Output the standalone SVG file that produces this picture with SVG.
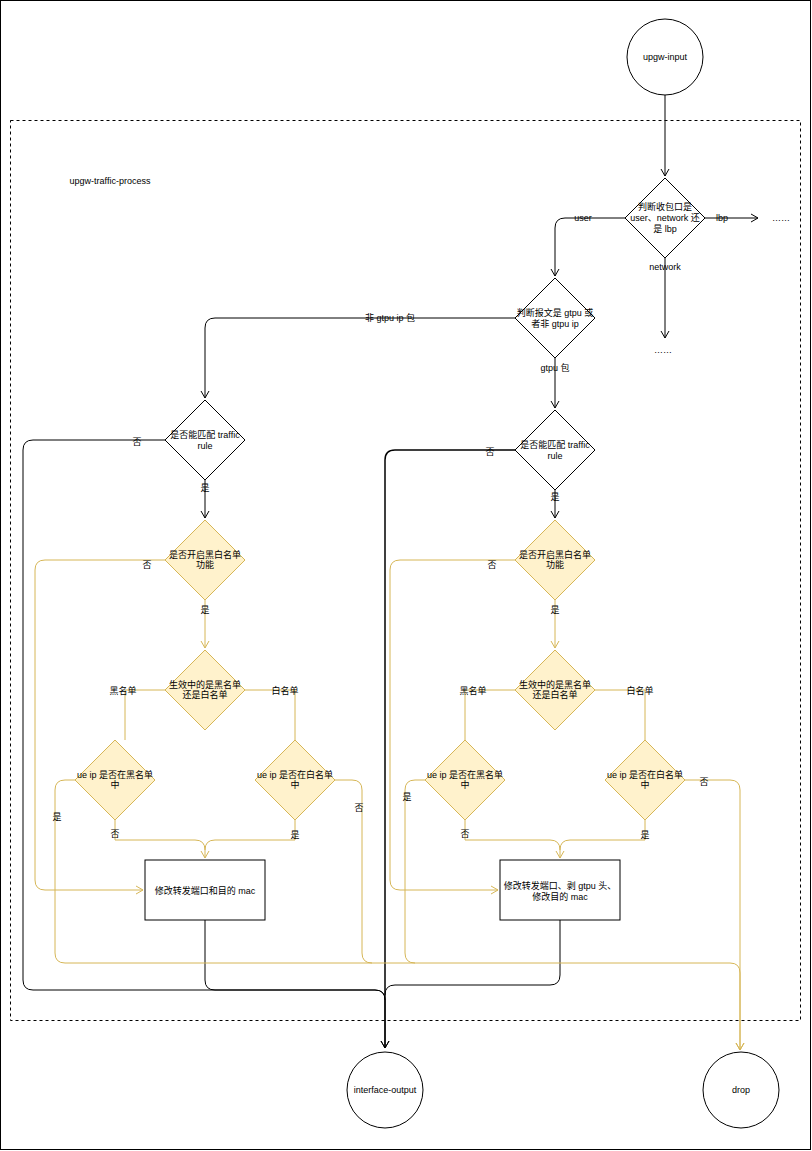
<svg xmlns="http://www.w3.org/2000/svg" width="812" height="1151" viewBox="0 0 812 1151">
<defs>
<marker id="ak" markerWidth="10" markerHeight="10" refX="8" refY="5" orient="auto" markerUnits="userSpaceOnUse"><path d="M1,1 L8,5 L1,9" fill="none" stroke="#000" stroke-width="1"/></marker>
<marker id="ay" markerWidth="10" markerHeight="10" refX="8" refY="5" orient="auto" markerUnits="userSpaceOnUse"><path d="M1,1 L8,5 L1,9" fill="none" stroke="#d6b656" stroke-width="1"/></marker>
</defs>
<style>
text{font-family:"Liberation Sans","Noto Sans CJK SC",sans-serif;font-size:9px;fill:#000;text-anchor:middle;dominant-baseline:central}
.n{fill:#fff;stroke:#000;stroke-width:1}
.y{fill:#fff2cc;stroke:#d6b656;stroke-width:1}
.e{fill:none;stroke:#000;stroke-width:1}
.ey{fill:none;stroke:#d6b656;stroke-width:1}
.lb{fill:#fff}
</style>
<rect x="0.5" y="0.5" width="810" height="1149" fill="#fff" stroke="#000"/>
<rect x="10.5" y="120.5" width="790" height="900" fill="none" stroke="#000" stroke-dasharray="3,3"/>
<text x="110" y="181">upgw-traffic-process</text>
<g id="connectors">
<path class="e" d="M665,95 V176" marker-end="url(#ak)"/>
<path class="e" d="M705,218 H758" marker-end="url(#ak)"/>
<path class="e" d="M665,258 V338" marker-end="url(#ak)"/>
<path class="e" d="M625,218 H565 Q555,218 555,228 V276" marker-end="url(#ak)"/>
<path class="e" d="M515,318 H215 Q205,318 205,328 V398" marker-end="url(#ak)"/>
<path class="e" d="M555,358 V408" marker-end="url(#ak)"/>
<path class="e" d="M205,480 V518" marker-end="url(#ak)"/>
<path class="e" d="M555,490 V518" marker-end="url(#ak)"/>
<path class="e" d="M165,440 H33 Q23,440 23,450 V980 Q23,990 33,990 H375 Q385,990 385,1000 V1048" marker-end="url(#ak)" style="stroke-width:1"/>
<path class="e" d="M515,450 H395 Q385,450 385,460 V1048" marker-end="url(#ak)" style="stroke-width:1.5"/>
<path class="e" d="M205,920 V980 Q205,990 215,990 H375 Q385,990 385,1000"/>
<path class="e" d="M560,920 V975 Q560,985 550,985 H395 Q385,985 385,995"/>
<path class="ey" d="M205,600 V648" marker-end="url(#ay)"/>
<path class="ey" d="M555,600 V648" marker-end="url(#ay)"/>
<path class="ey" d="M165,560 H45 Q35,560 35,570 V880 Q35,890 45,890 H143" marker-end="url(#ay)"/>
<path class="ey" d="M515,560 H400 Q390,560 390,570 V880 Q390,890 400,890 H498" marker-end="url(#ay)"/>
<path class="ey" d="M165,690 H125 V740"/>
<path class="ey" d="M245,690 H295 V740"/>
<path class="ey" d="M515,690 H465 V740"/>
<path class="ey" d="M595,690 H645 V740"/>
<path class="ey" d="M115,820 V840 H195 Q205,840 205,850 V858" marker-end="url(#ay)"/>
<path class="ey" d="M295,820 V840 H215 Q205,840 205,850"/>
<path class="ey" d="M465,820 V840 H550 Q560,840 560,850 V858" marker-end="url(#ay)"/>
<path class="ey" d="M645,820 V840 H570 Q560,840 560,850"/>
<path class="ey" d="M75,780 H65 Q55,780 55,790 V953 Q55,963 65,963 H730 Q740,963 740,973 V1050" marker-end="url(#ay)"/>
<path class="ey" d="M335,780 H352 Q362,780 362,790 V953 Q362,963 372,963"/>
<path class="ey" d="M425,780 H415 Q405,780 405,790 V953 Q405,963 415,963"/>
<path class="ey" d="M685,780 H730 Q740,780 740,790 V1050" marker-end="url(#ay)"/>
<text x="722" y="218" class="lbt">lbp</text>
<text x="665" y="267">network</text>
<text x="583" y="218">user</text>
<text x="390" y="318">非 gtpu ip 包</text>
<text x="555" y="368">gtpu 包</text>
<text x="137" y="442">否</text>
<text x="490" y="452">否</text>
<text x="205" y="488">是</text>
<text x="555" y="497">是</text>
<text x="147" y="565">否</text>
<text x="492" y="565">否</text>
<text x="205" y="610">是</text>
<text x="555" y="610">是</text>
<text x="123" y="691">黑名单</text>
<text x="285" y="691">白名单</text>
<text x="473" y="691">黑名单</text>
<text x="640" y="691">白名单</text>
<text x="115" y="834">否</text>
<text x="295" y="835">是</text>
<text x="465" y="834">否</text>
<text x="645" y="835">是</text>
<text x="57" y="817">是</text>
<text x="359" y="808">否</text>
<text x="407" y="797">是</text>
<text x="704" y="782">否</text>
<text x="781" y="218">……</text>
<text x="663" y="350">……</text>
</g>
<g id="upgw-input"><circle class="n" cx="665" cy="57" r="38"/><text x="665" y="57">upgw-input</text></g>
<g id="d1"><path class="n" d="M665,178 L705,218 L665,258 L625,218 Z"/><text x="665" y="207">判断收包口是</text><text x="665" y="218">user、network 还</text><text x="665" y="229">是 lbp</text></g>
<g id="d2"><path class="n" d="M555,278 L595,318 L555,358 L515,318 Z"/><text x="555" y="313">判断报文是 gtpu 或</text><text x="555" y="324">者非 gtpu ip</text></g>
<g id="d3l"><path class="n" d="M205,400 L245,440 L205,480 L165,440 Z"/><text x="205" y="435">是否能匹配 traffic</text><text x="205" y="446">rule</text></g>
<g id="d3r"><path class="n" d="M555,410 L595,450 L555,490 L515,450 Z"/><text x="555" y="445">是否能匹配 traffic</text><text x="555" y="456">rule</text></g>
<g id="d4l"><path class="y" d="M205,520 L245,560 L205,600 L165,560 Z"/><text x="205" y="555">是否开启黑白名单</text><text x="205" y="565">功能</text></g>
<g id="d4r"><path class="y" d="M555,520 L595,560 L555,600 L515,560 Z"/><text x="555" y="555">是否开启黑白名单</text><text x="555" y="565">功能</text></g>
<g id="d5l"><path class="y" d="M205,650 L245,690 L205,730 L165,690 Z"/><text x="205" y="685">生效中的是黑名单</text><text x="205" y="695">还是白名单</text></g>
<g id="d5r"><path class="y" d="M555,650 L595,690 L555,730 L515,690 Z"/><text x="555" y="685">生效中的是黑名单</text><text x="555" y="695">还是白名单</text></g>
<g id="d6l"><path class="y" d="M115,740 L155,780 L115,820 L75,780 Z"/><text x="115" y="775">ue ip 是否在黑名单</text><text x="115" y="785">中</text></g>
<g id="d7l"><path class="y" d="M295,740 L335,780 L295,820 L255,780 Z"/><text x="295" y="775">ue ip 是否在白名单</text><text x="295" y="785">中</text></g>
<g id="d6r"><path class="y" d="M465,740 L505,780 L465,820 L425,780 Z"/><text x="465" y="775">ue ip 是否在黑名单</text><text x="465" y="785">中</text></g>
<g id="d7r"><path class="y" d="M645,740 L685,780 L645,820 L605,780 Z"/><text x="645" y="775">ue ip 是否在白名单</text><text x="645" y="785">中</text></g>
<g id="boxl"><rect class="n" x="145" y="860" width="120" height="60"/><text x="205" y="891">修改转发端口和目的 mac</text></g>
<g id="boxr"><rect class="n" x="500" y="860" width="120" height="60"/><text x="560" y="886">修改转发端口、剥 gtpu 头、</text><text x="560" y="897">修改目的 mac</text></g>
<g id="interface-output"><circle class="n" cx="385" cy="1090" r="38"/><text x="385" y="1090">interface-output</text></g>
<g id="drop"><circle class="n" cx="741" cy="1090" r="38"/><text x="741" y="1090">drop</text></g>
</svg>
